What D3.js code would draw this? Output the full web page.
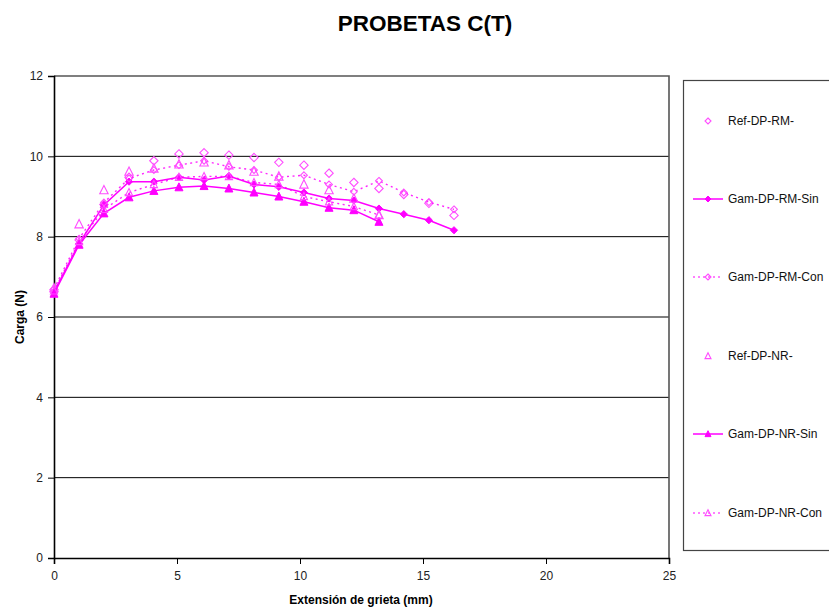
<!DOCTYPE html>
<html>
<head>
<meta charset="utf-8">
<script src="https://cdn.jsdelivr.net/npm/d3@7"></script>
<style>
  html, body { margin: 0; padding: 0; background: #fff; }
  svg { display: block; font-family: "Liberation Sans", Arial, sans-serif; }
</style>
</head>
<body>
<svg id="chart" width="829" height="610"></svg>
<script>
// Crack extension (mm) at each measurement step
const extension = [0, 1.02, 2.03, 3.05, 4.06, 5.08, 6.1, 7.11, 8.13, 9.14, 10.16, 11.18, 12.19, 13.21, 14.22, 15.24, 16.26];

// Load (N) per specimen series
const refRM   = [6.68, 7.92, 8.80, 9.48, 9.89, 10.06, 10.09, 10.03, 9.97, 9.85, 9.78, 9.58, 9.35, 9.20, 9.05, 8.83, 8.53];
const gamRMSin = [6.62, 7.83, 8.79, 9.37, 9.37, 9.48, 9.41, 9.51, 9.30, 9.24, 9.10, 8.95, 8.90, 8.70, 8.56, 8.41, 8.16];
const gamRMCon = [6.70, 7.95, 8.85, 9.45, 9.66, 9.78, 9.89, 9.74, 9.66, 9.48, 9.53, 9.30, 9.12, 9.39, 9.10, 8.86, 8.68];
const refNR   = [6.72, 8.31, 9.16, 9.62, 9.70, 9.80, 9.85, 9.78, 9.62, 9.50, 9.30, 9.16, 8.95, 8.54];
const gamNRSin = [6.58, 7.80, 8.58, 8.98, 9.14, 9.23, 9.26, 9.20, 9.10, 9.00, 8.87, 8.72, 8.66, 8.37];
const gamNRCon = [6.65, 7.88, 8.68, 9.10, 9.30, 9.48, 9.50, 9.50, 9.35, 9.30, 9.00, 8.87, 8.75, 8.54];

const xTicks = [0, 5, 10, 15, 20, 25];
const yTicks = [0, 2, 4, 6, 8, 10, 12];

const seriesNames = ["Ref-DP-RM-", "Gam-DP-RM-Sin", "Gam-DP-RM-Con", "Ref-DP-NR-", "Gam-DP-NR-Sin", "Gam-DP-NR-Con"];

const MAG = "#ff00ff";
const MAG_LIGHT = "#ff4dff";

const series = [
  { name: seriesNames[0], values: refRM,    line: null,     marker: "diamond",  fill: false, size: 4.2, color: MAG_LIGHT },
  { name: seriesNames[1], values: gamRMSin, line: "solid",  marker: "diamond",  fill: true,  size: 3.6, color: MAG },
  { name: seriesNames[2], values: gamRMCon, line: "dotted", marker: "diamond",  fill: false, size: 3.4, color: MAG_LIGHT },
  { name: seriesNames[3], values: refNR,    line: null,     marker: "triangle", fill: false, size: 4.2, color: MAG_LIGHT },
  { name: seriesNames[4], values: gamNRSin, line: "solid",  marker: "triangle", fill: true,  size: 4.0, color: MAG },
  { name: seriesNames[5], values: gamNRCon, line: "dotted", marker: "triangle", fill: false, size: 3.6, color: MAG_LIGHT }
];

const svg = d3.select("#chart");
const plot = { left: 54, right: 669, top: 76, bottom: 558 };

const x = d3.scaleLinear().domain([0, 25]).range([plot.left, plot.right]);
const y = d3.scaleLinear().domain([0, 12]).range([plot.bottom, plot.top]);

// Title
svg.append("text")
  .attr("x", 425).attr("y", 31)
  .attr("text-anchor", "middle")
  .attr("font-size", 22.5).attr("font-weight", "bold")
  .attr("fill", "#000")
  .text("PROBETAS C(T)");

// Horizontal gridlines
svg.append("g")
  .selectAll("line")
  .data(yTicks.filter(t => t > 0 && t < 12))
  .join("line")
  .attr("x1", plot.left).attr("x2", plot.right)
  .attr("y1", d => y(d)).attr("y2", d => y(d))
  .attr("stroke", "#000").attr("stroke-width", 1);

// Plot frame (top and right)
svg.append("path")
  .attr("d", `M${plot.left},${y(12)}H${plot.right}V${plot.bottom}`)
  .attr("fill", "none").attr("stroke", "#555").attr("stroke-width", 1.6);

// Axes
const xAxis = d3.axisBottom(x).tickValues(xTicks).tickSize(6).tickPadding(7).tickFormat(d3.format("d"));
const yAxis = d3.axisLeft(y).tickValues(yTicks).tickSize(6).tickPadding(5).tickFormat(d3.format("d"));

const gx = svg.append("g").attr("transform", `translate(0,${plot.bottom})`).call(xAxis);
const gy = svg.append("g").attr("transform", `translate(${plot.left},0)`).call(yAxis);
[gx, gy].forEach(g => {
  g.select(".domain").attr("stroke", "#000").attr("stroke-width", 1.6);
  g.selectAll(".tick line").attr("stroke", "#000");
  g.selectAll(".tick text").attr("font-size", 12).attr("fill", "#222")
    .attr("font-family", "'Liberation Sans', Arial, sans-serif");
});

// Axis titles
svg.append("text")
  .attr("x", 361).attr("y", 604)
  .attr("text-anchor", "middle")
  .attr("font-size", 12).attr("font-weight", "bold")
  .text("Extensión de grieta (mm)");

svg.append("text")
  .attr("transform", `translate(24,${y(6)}) rotate(-90)`)
  .attr("text-anchor", "middle")
  .attr("font-size", 12).attr("font-weight", "bold")
  .text("Carga (N)");

// Marker shapes
function markerPath(type, s) {
  if (type === "diamond") {
    return `M0,${-s}L${s},0L0,${s}L${-s},0Z`;
  }
  const h = s * 1.1;
  return `M0,${-h}L${s},${h * 0.8}L${-s},${h * 0.8}Z`;
}

function drawMarker(g, d, cx, cy) {
  g.append("path")
    .attr("transform", `translate(${cx},${cy})`)
    .attr("d", markerPath(d.marker, d.size))
    .attr("fill", d.fill ? d.color : "#fff")
    .attr("fill-opacity", d.fill ? 1 : 0)
    .attr("stroke", d.color)
    .attr("stroke-width", d.fill ? 1 : 1.1);
}

const line = d3.line().x(p => x(p[0])).y(p => y(p[1]));

const dataG = svg.append("g");
series.forEach(s => {
  const pts = s.values.map((v, i) => [extension[i], v]);
  if (s.line) {
    dataG.append("path")
      .datum(pts)
      .attr("d", line)
      .attr("fill", "none")
      .attr("stroke", MAG)
      .attr("stroke-width", s.line === "solid" ? 1.5 : 1.4)
      .attr("stroke-dasharray", s.line === "dotted" ? "2,3.5" : null)
      .attr("stroke-opacity", s.line === "solid" ? 1 : 0.85);
  }
  const mg = dataG.append("g");
  pts.forEach(p => drawMarker(mg, s, x(p[0]), y(p[1])));
});

// Legend
const legend = svg.append("g");
legend.append("rect")
  .attr("x", 683.5).attr("y", 80.5)
  .attr("width", 160).attr("height", 470)
  .attr("fill", "#fff").attr("stroke", "#444").attr("stroke-width", 1.2);

const legendY = [121, 199, 277, 356, 434, 513];
series.forEach((s, i) => {
  const ly = legendY[i];
  const g = legend.append("g");
  if (s.line) {
    g.append("line")
      .attr("x1", 693).attr("x2", 723)
      .attr("y1", ly).attr("y2", ly)
      .attr("stroke", MAG)
      .attr("stroke-width", s.line === "solid" ? 1.5 : 1.2)
      .attr("stroke-dasharray", s.line === "dotted" ? "2,3" : null);
  }
  drawMarker(g, Object.assign({}, s, { size: Math.min(s.size, 3) }), 708, ly);
  g.append("text")
    .attr("x", 728).attr("y", ly + 4)
    .attr("font-size", 12).attr("fill", "#111")
    .text(s.name);
});
</script>
</body>
</html>
